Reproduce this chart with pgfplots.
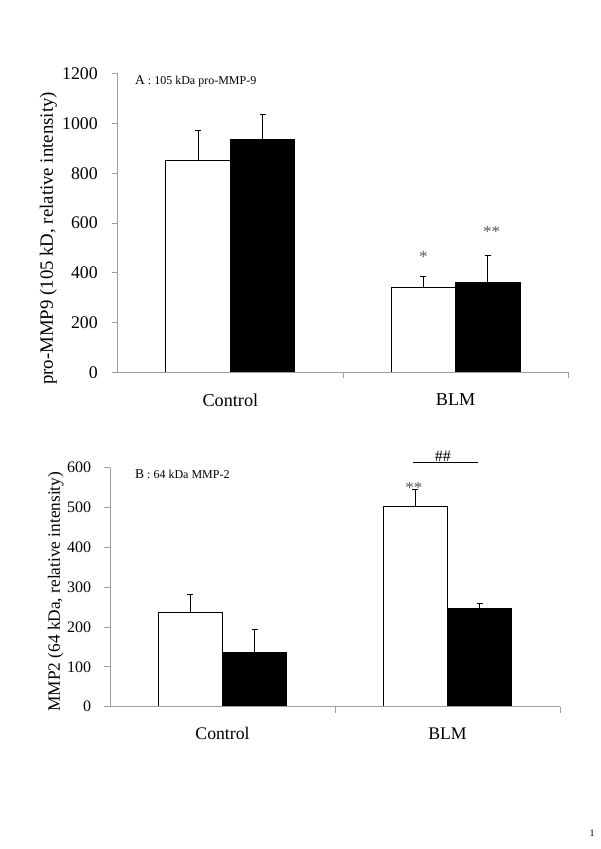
\documentclass[border=0pt]{standalone}
\usepackage{pgfplots}
\pgfplotsset{compat=1.18}
\usepackage{fontspec}
\setmainfont{Liberation Serif}
\definecolor{axgray}{gray}{0.62}
\begin{document}
\begin{tikzpicture}
\path[use as bounding box] (0pt,0pt) rectangle (600pt,849pt);
\pgfplotsset{
 common/.style={
  scale only axis, anchor=south west,
  axis on top,
  xmin=-0.5, xmax=1.5, ymin=0,
  axis x line*=bottom, axis y line*=left,
  axis line style={draw=axgray, line width=1pt},
  every tick/.style={draw=axgray, line width=1pt},
  tick align=outside,
  major tick length=6pt,
  xtick={0.5,1.5}, xticklabels={},
  extra x ticks={0,1}, extra x tick labels={Control,BLM},
  extra x tick style={major tick length=0pt},
  /pgf/number format/assume math mode=true,
  /pgf/number format/1000 sep={},
  yticklabel style={anchor=east, inner sep=0pt},
  xticklabel style={anchor=north, inner sep=0pt},
  bar width=0.2863,
  clip=false,
 },
 wbar/.style={ybar, bar shift=0pt, fill=white, draw=black, line width=1pt,
   error bars/y dir=plus, error bars/y explicit,
   error bars/error bar style={line width=1pt, black},
   error bars/error mark options={rotate=90, line width=1pt, black, mark size=3pt}},
 bbar/.style={ybar, bar shift=0pt, fill=black, draw=black, line width=1pt,
   error bars/y dir=plus, error bars/y explicit,
   error bars/error bar style={line width=1pt, black},
   error bars/error mark options={rotate=90, line width=1pt, black, mark size=3pt}},
}
% ---------------- Panel A ----------------
\begin{axis}[common,
  at={(117.7pt,476.7pt)}, width=450.6pt, height=298.3pt,
  ymax=1200, ytick={0,200,...,1200},
  yticklabel style={font=\fontsize{17.8}{20}\selectfont, xshift=-13.7pt},
  xticklabel style={font=\fontsize{18.2}{21}\selectfont, yshift=-21pt},
]
\addplot[wbar] coordinates {(-0.14315,853) +- (0,118) (0.85685,340) +- (0,46)};
\addplot[bbar] coordinates {(0.14315,937) +- (0,102) (1.14315,360) +- (0,109)};
\node[anchor=base, text=black!65, font=\fontsize{17}{20}\selectfont] at (axis cs:0.857,443) {*};
\node[anchor=base, text=black!65, font=\fontsize{17}{20}\selectfont] at (axis cs:1.16,543) {**};
\end{axis}
\node[rotate=90, font=\fontsize{18.8}{22}\selectfont] at (48.3pt,610.5pt) {pro-MMP9 (105 kD, relative intensity)};
\node[anchor=base west, inner sep=0pt] at (135pt,764pt) {{\fontsize{13.5}{16}\selectfont A}{\fontsize{12}{14}\selectfont\ : 105 kDa pro-MMP-9}};
% ---------------- Panel B ----------------
\begin{axis}[common,
  at={(110pt,142.3pt)}, width=450pt, height=239pt,
  ymax=600, ytick={0,100,...,600},
  yticklabel style={font=\fontsize{16}{19}\selectfont, xshift=-12.7pt},
  xticklabel style={font=\fontsize{17.7}{21}\selectfont, yshift=-20.6pt},
]
\addplot[wbar] coordinates {(-0.14315,237) +- (0,44) (0.85685,502) +- (0,44)};
\addplot[bbar] coordinates {(0.14315,135) +- (0,58) (1.14315,246) +- (0,13)};
\node[anchor=base, text=black!65, font=\fontsize{17}{20}\selectfont] at (axis cs:0.851,536) {**};
\draw[black, line width=0.8pt] (axis cs:0.848,614) -- (axis cs:1.137,614);
\node[anchor=base, inner sep=0pt, font=\fontsize{16}{18}\selectfont] at (axis cs:0.979,616) {\#\#};
\end{axis}
\node[rotate=90, font=\fontsize{17.3}{20}\selectfont] at (55.8pt,257.3pt) {MMP2 (64 kDa, relative intensity)};
\node[anchor=base west, inner sep=0pt] at (135pt,370pt) {{\fontsize{13.5}{16}\selectfont B}{\fontsize{12}{14}\selectfont\ : 64 kDa MMP-2}};
% page number
\node[font=\fontsize{10}{12}\selectfont] at (592pt,16pt) {1};
\end{tikzpicture}
\end{document}
